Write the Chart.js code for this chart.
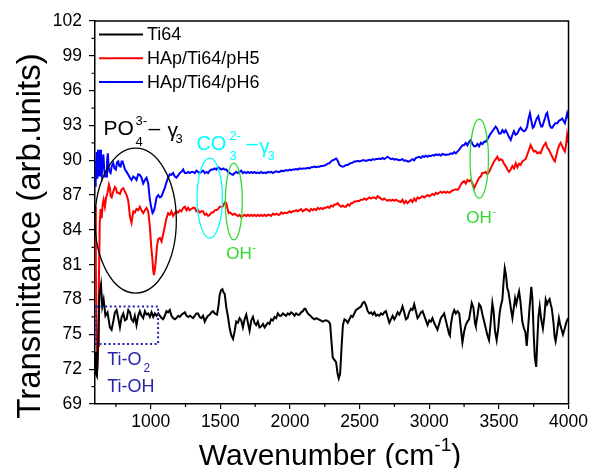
<!DOCTYPE html>
<html>
<head>
<meta charset="utf-8">
<script src="https://cdn.jsdelivr.net/npm/chart.js@4.4.1/dist/chart.umd.min.js"></script>
<style>
    html, body { margin: 0; padding: 0; background: #ffffff; }
    #wrap { width: 591px; height: 468px; position: relative; }
</style>
</head>
<body>
<div id="wrap"><canvas id="ftir-chart"></canvas></div>
<script>
// Wavenumbers (cm-1) and transmittance
const ti64Wave = [600,607,614,622,632,643,652,662,675,690,707,719,731,743,755,767,779,791,803,815,827,839,851,862,875,886,898,910,922,934,946,958,970,982,994,1006,1018,1030,1042,1054,1066,1078,1089,1101,1113,1125,1137,1149,1161,1173,1185,1197,1209,1221,1233,1245,1257,1270,1282,1294,1304,1316,1328,1340,1352,1364,1376,1388,1400,1412,1424,1436,1447,1460,1476,1486,1495,1505,1515,1523,1531,1543,1555,1567,1579,1591,1603,1614,1626,1638,1650,1662,1674,1686,1698,1710,1722,1734,1745,1757,1769,1781,1794,1806,1818,1829,1841,1853,1865,1877,1889,1901,1913,1925,1937,1949,1960,1972,1984,1996,2008,2020,2032,2044,2056,2068,2080,2092,2104,2111,2123,2135,2147,2163,2176,2190,2205,2220,2235,2250,2265,2278,2288,2297,2307,2319,2331,2342,2350,2360,2370,2380,2391,2403,2415,2427,2439,2450,2462,2474,2486,2498,2510,2522,2534,2546,2558,2570,2582,2594,2606,2618,2629,2641,2653,2665,2677,2689,2701,2713,2725,2737,2749,2761,2773,2785,2797,2808,2820,2832,2844,2856,2868,2880,2892,2904,2916,2928,2940,2952,2964,2976,2988,3000,3011,3023,3035,3047,3059,3071,3083,3095,3107,3119,3131,3143,3148,3155,3167,3179,3191,3203,3215,3227,3238,3250,3262,3274,3286,3298,3305,3317,3329,3334,3346,3358,3370,3382,3394,3406,3418,3429,3441,3453,3462,3472,3484,3496,3505,3513,3525,3534,3542,3551,3560,3568,3578,3589,3597,3606,3616,3625,3635,3645,3655,3668,3680,3690,3700,3710,3720,3733,3741,3750,3758,3768,3776,3784,3793,3804,3816,3826,3836,3846,3856,3864,3872,3880,3892,3900,3907,3915,3923,3931,3939,3948,3960,3970,3979,3986,3993,4000];
const ti64Values = [73.5,71.6,71.4,74.0,78.5,79.3,77.4,78.0,76.6,76.9,75.6,75.4,76.1,76.9,77.1,76.4,75.6,76.5,76.8,76.2,76.3,77.1,76.9,76.3,76.1,76.6,75.8,76.6,77.0,76.6,76.4,77.0,76.7,76.8,76.5,76.9,76.5,76.8,76.6,76.8,76.6,76.4,76.3,76.6,77.0,76.9,77.1,76.6,76.4,76.3,76.4,76.6,76.5,76.7,76.8,76.9,76.6,76.5,76.6,76.5,76.4,76.6,76.8,76.8,76.5,76.4,76.6,76.1,76.4,76.6,76.7,76.9,77.0,76.8,76.7,77.4,78.4,78.8,78.9,78.6,78.5,77.3,76.5,75.5,74.9,74.6,75.3,76.1,76.0,76.4,76.2,75.6,76.3,76.7,76.0,75.3,76.2,76.5,76.0,75.8,76.1,75.6,75.7,75.9,75.6,75.8,76.0,75.9,76.3,76.2,76.5,76.4,76.8,76.6,76.6,76.8,76.7,76.6,76.8,76.7,76.9,76.8,76.6,76.8,76.7,76.7,76.9,77.0,77.2,77.2,76.9,76.7,76.6,76.4,76.3,76.4,76.3,76.2,76.1,76.2,76.2,76.1,75.9,74.5,73.0,72.8,72.6,71.6,71.2,71.6,73.8,75.8,76.3,76.2,76.0,76.3,76.6,76.5,76.8,77.1,77.2,77.3,77.4,77.7,77.8,77.5,77.0,76.8,76.9,76.7,76.9,76.6,76.7,76.6,76.8,76.7,76.9,77.0,76.5,76.0,76.3,76.6,76.3,76.55,76.9,76.7,77.0,77.4,76.9,76.3,76.4,76.9,77.2,77.1,77.6,77.0,76.4,76.6,76.9,77.0,76.6,76.2,75.8,76.2,76.1,76.4,76.0,75.7,75.4,75.9,76.4,76.6,76.8,76.2,75.6,75.0,74.9,75.8,76.7,77.1,76.8,77.0,76.8,75.5,74.3,75.2,75.8,76.1,76.3,77.2,77.7,77.3,75.9,75.7,76.6,77.6,77.4,76.7,76.1,75.5,74.9,74.5,76.0,77.7,77.0,75.3,74.5,75.6,76.8,77.4,78.0,79.6,80.7,80.1,79.0,78.7,77.9,77.0,76.4,77.2,78.1,77.6,78.2,78.7,77.8,76.1,75.5,75.2,74.0,75.6,77.3,79.1,78.0,75.0,73.0,72.2,74.5,76.5,77.4,76.3,75.5,76.5,78.0,77.6,77.9,78.05,77.6,77.2,76.0,74.8,74.4,75.0,75.7,76.4,75.9,75.5,75.0,75.4,75.8,76.1,76.3,76.2];

const ph5Wave = [600,606,612,617,622,628,634,640,648,655,662,671,680,690,700,707,713,720,731,743,750,758,767,779,791,803,815,827,839,851,862,875,886,898,910,922,934,946,958,970,982,994,1004,1013,1018,1023,1030,1037,1045,1054,1066,1078,1089,1101,1113,1125,1137,1149,1161,1173,1185,1197,1209,1221,1233,1245,1257,1268,1280,1292,1304,1316,1328,1340,1352,1364,1376,1388,1400,1412,1424,1436,1448,1460,1472,1484,1496,1508,1515,1525,1535,1543,1552,1560,1570,1580,1590,1602,1614,1626,1638,1650,1662,1674,1686,1698,1710,1722,1734,1745,1757,1769,1781,1793,1805,1817,1829,1841,1853,1865,1877,1889,1901,1913,1925,1937,1949,1961,1973,1985,1997,2008,2020,2032,2044,2056,2068,2080,2092,2104,2116,2128,2140,2152,2163,2175,2187,2199,2211,2223,2235,2247,2259,2271,2283,2295,2307,2319,2331,2343,2355,2367,2379,2390,2402,2414,2427,2438,2450,2462,2474,2486,2498,2510,2522,2534,2546,2558,2570,2582,2594,2606,2618,2629,2641,2653,2665,2677,2689,2701,2713,2725,2737,2749,2761,2773,2785,2797,2808,2820,2832,2844,2856,2868,2880,2892,2904,2916,2928,2940,2952,2964,2976,2988,3000,3011,3023,3035,3047,3059,3071,3083,3095,3107,3119,3131,3143,3155,3167,3179,3191,3202,3214,3226,3238,3250,3262,3274,3286,3298,3310,3322,3334,3346,3358,3370,3381,3393,3405,3417,3430,3441,3453,3465,3477,3489,3501,3513,3525,3537,3549,3561,3573,3585,3597,3609,3621,3633,3645,3656,3668,3680,3692,3704,3716,3728,3740,3752,3764,3776,3788,3800,3812,3824,3836,3847,3859,3871,3883,3895,3902,3912,3922,3933,3943,3955,3966,3974,3982,3990,4000];
const ph5Values = [86.0,81.0,74.5,72.0,74.0,79.5,84.5,85.8,85.0,86.2,86.6,86.0,86.8,87.2,87.9,87.6,86.9,86.8,87.3,87.7,87.6,87.2,87.2,87.1,87.5,87.6,87.3,87.0,86.5,85.15,84.6,85.6,85.5,85.8,85.7,86.0,85.7,85.45,85.7,85.9,85.6,84.3,82.5,81.4,80.5,80.1,80.6,81.4,82.6,83.2,83.3,83.0,83.6,84.3,85.0,85.45,85.3,85.6,85.2,85.45,85.6,85.5,85.7,85.6,85.9,86.0,85.7,85.9,85.7,85.8,85.9,85.9,85.6,85.7,85.5,85.6,85.6,85.3,85.4,85.2,85.3,85.5,85.5,85.7,85.7,85.8,86.0,86.0,86.0,86.2,86.4,86.3,85.8,85.45,85.5,85.4,85.3,85.4,85.3,85.2,85.3,85.1,85.2,85.3,85.2,85.3,85.2,85.3,85.2,85.3,85.2,85.3,85.2,85.3,85.2,85.3,85.2,85.3,85.3,85.2,85.4,85.3,85.4,85.3,85.3,85.5,85.4,85.5,85.45,85.5,85.6,85.5,85.6,85.6,85.7,85.6,85.7,85.8,85.6,85.7,85.8,85.7,85.6,85.8,85.7,85.8,85.7,85.9,85.8,85.9,85.8,85.9,85.9,86.0,85.9,86.1,86.0,86.2,86.2,86.3,86.1,86.0,86.1,86.0,86.0,86.2,86.1,86.3,86.3,86.45,86.45,86.5,86.5,86.6,86.6,86.7,86.6,86.7,86.8,86.7,86.8,86.8,86.7,86.9,86.8,86.7,86.6,86.7,86.6,86.5,86.6,86.5,86.6,86.5,86.6,86.5,86.45,86.4,86.6,86.3,86.5,86.3,86.45,86.6,86.4,86.7,86.5,86.8,86.7,86.8,86.9,86.8,86.9,87.0,86.9,87.0,87.1,87.0,87.2,87.1,87.2,87.3,87.2,87.3,87.2,87.3,87.2,87.3,87.4,87.45,87.5,87.45,87.6,87.9,88.1,88.2,88.0,88.3,88.2,88.3,88.0,87.6,87.9,88.2,88.5,88.6,88.9,88.9,89.0,88.8,89.0,89.3,89.6,89.9,90.1,90.3,90.0,90.1,90.0,89.7,89.5,89.2,89.0,89.2,89.5,89.3,89.75,89.4,89.7,89.6,89.9,90.0,90.1,90.5,90.9,91.3,91.0,90.75,90.8,90.6,90.7,90.6,91.0,91.3,91.5,91.1,90.9,90.6,90.3,90.0,89.9,90.4,90.9,91.3,91.5,91.2,90.9,90.75,91.3,92.2,91.5];

const ph6Wave = [600,603,607,612,617,622,627,632,637,643,648,654,660,666,672,679,686,692,698,704,712,720,731,740,750,758,767,775,784,791,798,806,815,827,839,851,862,875,886,898,910,922,934,946,958,970,982,994,1004,1013,1021,1030,1042,1054,1066,1078,1090,1101,1113,1125,1137,1149,1161,1173,1185,1197,1209,1221,1233,1245,1257,1269,1280,1292,1304,1316,1328,1340,1352,1364,1376,1388,1400,1412,1424,1436,1447,1459,1471,1483,1495,1507,1519,1531,1543,1555,1567,1579,1591,1603,1614,1626,1638,1650,1662,1674,1686,1698,1710,1722,1734,1745,1757,1769,1781,1793,1805,1817,1829,1841,1853,1865,1877,1889,1901,1913,1925,1937,1949,1961,1973,1985,1997,2008,2020,2032,2044,2056,2068,2080,2092,2104,2116,2128,2140,2152,2163,2175,2187,2199,2211,2223,2235,2247,2259,2271,2283,2295,2307,2319,2331,2336,2345,2355,2367,2379,2391,2403,2415,2427,2438,2450,2462,2474,2486,2498,2510,2522,2534,2546,2558,2570,2582,2594,2606,2618,2630,2641,2653,2665,2677,2689,2701,2713,2725,2737,2749,2761,2773,2785,2797,2808,2820,2832,2844,2856,2868,2880,2892,2904,2916,2928,2940,2952,2964,2976,2988,3000,3011,3023,3035,3047,3059,3071,3083,3095,3107,3119,3131,3143,3155,3167,3179,3191,3202,3214,3226,3238,3250,3262,3274,3286,3298,3310,3322,3334,3346,3358,3370,3382,3394,3405,3417,3429,3441,3453,3465,3477,3489,3501,3513,3525,3537,3549,3561,3573,3585,3597,3608,3620,3632,3644,3656,3668,3680,3692,3703,3713,3723,3733,3743,3752,3762,3772,3783,3793,3803,3812,3822,3833,3840,3847,3855,3865,3876,3883,3893,3905,3919,3931,3945,3955,3964,3974,3982,3990,4000];
const ph6Values = [87.8,90.0,88.2,90.7,88.4,90.9,89.2,88.6,90.9,88.8,88.6,89.8,90.5,89.3,88.6,88.6,89.8,90.6,89.4,89.0,88.9,89.5,89.75,89.3,89.2,89.8,89.9,89.5,89.45,89.9,89.9,89.6,89.2,89.0,88.75,88.5,88.3,88.6,88.5,88.3,88.8,88.75,88.5,88.0,88.3,88.5,88.0,86.6,85.9,85.45,85.6,86.0,86.8,87.0,86.8,86.9,87.3,87.6,88.1,88.5,88.8,88.75,88.9,88.6,88.5,88.7,88.9,89.0,89.2,88.9,88.9,89.0,88.9,89.0,89.0,88.9,89.1,89.0,88.9,89.0,89.1,88.9,89.0,88.9,89.1,89.2,89.2,89.3,89.2,89.4,89.3,89.2,89.3,89.2,89.2,89.0,88.9,88.8,88.75,88.9,89.0,88.9,89.0,89.1,88.9,89.0,88.9,89.0,88.9,89.0,88.9,89.0,88.9,88.95,88.9,89.0,88.9,88.95,88.9,89.0,88.95,89.0,88.9,89.0,89.05,89.0,89.0,89.1,89.05,89.1,89.15,89.1,89.2,89.15,89.2,89.2,89.25,89.2,89.3,89.25,89.3,89.3,89.3,89.35,89.3,89.4,89.4,89.45,89.4,89.45,89.45,89.5,89.5,89.55,89.6,89.7,89.75,89.9,90.0,90.05,90.15,90.1,89.9,89.6,89.5,89.45,89.5,89.6,89.6,89.7,89.75,89.8,89.9,89.9,89.95,89.9,89.95,90.0,90.0,89.95,90.0,90.05,90.0,90.1,90.05,90.1,90.1,90.15,90.1,90.2,90.1,90.2,90.3,90.2,90.1,90.15,90.05,90.1,90.05,90.0,90.05,90.1,89.95,90.0,89.9,89.9,90.0,90.1,90.0,90.2,90.25,90.3,90.2,90.35,90.3,90.4,90.3,90.4,90.35,90.45,90.4,90.5,90.45,90.5,90.4,90.55,90.5,90.45,90.5,90.5,90.6,90.55,90.7,90.6,90.75,90.9,91.1,91.3,91.3,91.5,91.3,91.6,91.75,91.4,91.2,91.2,91.4,91.2,91.5,91.4,91.6,91.6,91.8,92.05,92.3,92.5,92.7,92.9,92.7,92.3,92.3,92.6,92.4,92.6,92.3,92.0,91.75,92.2,92.5,92.2,92.3,92.6,92.8,92.6,92.5,92.6,92.9,93.6,94.05,93.4,92.8,92.9,93.3,93.6,93.8,93.3,92.9,92.9,93.3,93.7,94.0,94.1,93.6,93.0,92.8,92.8,93.0,93.2,93.2,93.4,93.5,93.6,93.4,93.2,93.6,94.05,93.6];

const seriesNames = ["Ti64", "HAp/Ti64/pH5", "HAp/Ti64/pH6"];
const seriesColors = ["#000000", "#ff0000", "#0000ff"];
const xTicks = [1000, 1500, 2000, 2500, 3000, 3500, 4000];
const xMinorTicks = [750, 1250, 1750, 2250, 2750, 3250, 3750];
const yTicks = [69, 72, 75, 78, 81, 84, 87, 90, 93, 96, 99, 102];
const yMinorTicks = [70.5, 73.5, 76.5, 79.5, 82.5, 85.5, 88.5, 91.5, 94.5, 97.5, 100.5];

const FONT = "'Liberation Sans', Arial, Helvetica, sans-serif";

// band annotations: ellipses in data units (centre, half widths)
const bandEllipses = [
    { x: 892, y: 84.8, rx: 292, ry: 6.24, color: "#000000" },
    { x: 1424, y: 86.74, rx: 91, ry: 3.44, color: "#00ffff" },
    { x: 1597, y: 86.45, rx: 61, ry: 3.3, color: "#30d830" },
    { x: 3359, y: 90.14, rx: 66, ry: 3.4, color: "#30d830" }
];

function toPoints(waves, values) {
    return waves.map(function (w, i) {
        return { x: w, y: values[i] };
    });
}

// pieces with a numeric dx sit at that offset, others follow the previous piece
function drawPieces(ctx, x, y, color, pieces) {
    let cursor = x;
    ctx.fillStyle = color;
    ctx.textBaseline = "alphabetic";
    ctx.textAlign = "left";
    pieces.forEach(function (p) {
        ctx.font = p.s + "px " + FONT;
        const px = typeof p.dx === "number" ? x + p.dx : cursor + (p.gap || 0);
        ctx.fillText(p.t, px, y + (p.dy || 0));
        cursor = px + ctx.measureText(p.t).width;
    });
}

const decorations = {
    id: "decorations",
    afterDatasetsDraw(chart) {
        const ctx = chart.ctx;
        const xs = chart.scales.x;
        const ys = chart.scales.y;
        const area = chart.chartArea;
        ctx.save();

        // ellipses around absorption bands
        ctx.lineWidth = 1.3;
        bandEllipses.forEach(function (e) {
            const cx = xs.getPixelForValue(e.x);
            const cy = ys.getPixelForValue(e.y);
            const rx = Math.abs(xs.getPixelForValue(e.x + e.rx) - cx);
            const ry = Math.abs(ys.getPixelForValue(e.y + e.ry) - cy);
            ctx.strokeStyle = e.color;
            ctx.beginPath();
            ctx.ellipse(cx, cy, rx, ry, 0, 0, Math.PI * 2);
            ctx.stroke();
        });

        // dotted box for Ti-O region
        const bx1 = xs.getPixelForValue(607), bx2 = xs.getPixelForValue(1053);
        const by1 = ys.getPixelForValue(77.41), by2 = ys.getPixelForValue(74.17);
        ctx.strokeStyle = "#2020b4";
        ctx.lineWidth = 2;
        ctx.setLineDash([2, 2.6]);
        ctx.strokeRect(bx1, by1, bx2 - bx1, by2 - by1);
        ctx.setLineDash([]);

        // band labels
        drawPieces(ctx, xs.getPixelForValue(661), ys.getPixelForValue(92.19), "#000000", [
            { t: "PO", s: 21, dx: 0 },
            { t: "4", s: 13, dx: 32, dy: 11.5 },
            { t: "3-", s: 13, dx: 32, dy: -10 },
            { t: "\u2013", s: 21, dx: 45 },
            { t: "\u03b3", s: 21, dx: 64, dy: 2 },
            { t: "3", s: 13, dx: 72, dy: 8 }
        ]);
        drawPieces(ctx, xs.getPixelForValue(1328), ys.getPixelForValue(90.9), "#00ffff", [
            { t: "CO", s: 20, dx: 0 },
            { t: "3", s: 13, dx: 33, dy: 10 },
            { t: "2-", s: 13, dx: 33, dy: -10 },
            { t: "\u2013", s: 20, dx: 50 },
            { t: "\u03b3", s: 20, dx: 63, dy: 3 },
            { t: "3", s: 13, dx: 71, dy: 10 }
        ]);
        [[1543, 81.5], [3265, 84.6]].forEach(function (pos) {
            drawPieces(ctx, xs.getPixelForValue(pos[0]), ys.getPixelForValue(pos[1]), "#30d830", [
                { t: "OH", s: 17, dx: 0 },
                { t: "-", s: 11, gap: 0.5, dy: -8 }
            ]);
        });
        drawPieces(ctx, xs.getPixelForValue(688), ys.getPixelForValue(72.4), "#2525a5", [
            { t: "Ti-O", s: 18, dx: 0 },
            { t: "2", s: 12, gap: 2, dy: 7.5 }
        ]);
        drawPieces(ctx, xs.getPixelForValue(688), ys.getPixelForValue(70.0), "#2525a5", [
            { t: "Ti-OH", s: 18, dx: 0 }
        ]);

        // legend, top left inside the frame
        ctx.font = "18px " + FONT;
        ctx.textBaseline = "middle";
        seriesNames.forEach(function (name, i) {
            const ly = area.top + 13.5 + i * 23.7;
            ctx.strokeStyle = seriesColors[i];
            ctx.lineWidth = 2;
            ctx.beginPath();
            ctx.moveTo(area.left + 4, ly);
            ctx.lineTo(area.left + 48, ly);
            ctx.stroke();
            ctx.fillStyle = "#000000";
            ctx.fillText(name, area.left + 52, ly + 1);
        });
        ctx.restore();
    },
    afterDraw(chart) {
        const ctx = chart.ctx;
        const xs = chart.scales.x;
        const ys = chart.scales.y;
        const area = chart.chartArea;
        ctx.save();

        // top and right frame lines
        ctx.strokeStyle = "#000000";
        ctx.lineWidth = 1.5;
        ctx.beginPath();
        ctx.moveTo(area.left, area.top);
        ctx.lineTo(area.right, area.top);
        ctx.lineTo(area.right, area.bottom);
        ctx.stroke();

        // minor ticks
        ctx.lineWidth = 1.2;
        ctx.beginPath();
        xMinorTicks.forEach(function (v) {
            const px = xs.getPixelForValue(v);
            ctx.moveTo(px, area.bottom);
            ctx.lineTo(px, area.bottom + 3);
        });
        yMinorTicks.forEach(function (v) {
            const py = ys.getPixelForValue(v);
            ctx.moveTo(area.left, py);
            ctx.lineTo(area.left - 3.5, py);
        });
        ctx.stroke();

        // axis titles
        ctx.fillStyle = "#000000";
        ctx.textBaseline = "alphabetic";
        ctx.textAlign = "left";
        const main = "Wavenumber (cm";
        ctx.font = "30px " + FONT;
        const wMain = ctx.measureText(main).width;
        const wEnd = ctx.measureText(")").width;
        ctx.font = "19px " + FONT;
        const wSup = ctx.measureText("-1").width;
        const tx = 330 - (wMain + wSup + wEnd) / 2;
        ctx.font = "30px " + FONT;
        ctx.fillText(main, tx, 465);
        ctx.fillText(")", tx + wMain + wSup, 465);
        ctx.font = "19px " + FONT;
        ctx.fillText("-1", tx + wMain, 451);

        ctx.translate(40, 236);
        ctx.rotate(-Math.PI / 2);
        ctx.textAlign = "center";
        ctx.font = "33px " + FONT;
        ctx.fillText("Transmittance (arb.units)", 0, 0);
        ctx.restore();
    }
};

const datasets = [
    { label: seriesNames[0], data: toPoints(ti64Wave, ti64Values) },
    { label: seriesNames[1], data: toPoints(ph5Wave, ph5Values) },
    { label: seriesNames[2], data: toPoints(ph6Wave, ph6Values) }
].map(function (ds, i) {
    ds.borderColor = seriesColors[i];
    ds.backgroundColor = seriesColors[i];
    ds.borderWidth = 2;
    ds.pointRadius = 0;
    ds.tension = 0;
    ds.fill = false;
    return ds;
});

new Chart(document.getElementById("ftir-chart").getContext("2d"), {
    type: "line",
    data: { datasets: datasets },
    plugins: [decorations],
    options: {
        responsive: true,
        maintainAspectRatio: false,
        animation: false,
        layout: { padding: { left: 0, top: 21, right: 22, bottom: 0 } },
        plugins: {
            legend: { display: false },
            tooltip: { enabled: false }
        },
        scales: {
            x: {
                type: "linear",
                min: 600,
                max: 4000,
                afterBuildTicks: function (scale) {
                    scale.ticks = xTicks.map(function (v) { return { value: v }; });
                },
                afterFit: function (scale) { scale.height = 64; },
                grid: { display: true, drawOnChartArea: false, drawTicks: true, tickLength: 5, color: "#000000", lineWidth: 1.2 },
                border: { display: true, color: "#000000", width: 1.5 },
                ticks: {
                    color: "#000000",
                    font: { family: FONT, size: 17.5 },
                    padding: 3,
                    maxRotation: 0,
                    callback: function (value) { return String(value); }
                }
            },
            y: {
                type: "linear",
                min: 69,
                max: 102,
                afterBuildTicks: function (scale) {
                    scale.ticks = yTicks.map(function (v) { return { value: v }; });
                },
                afterFit: function (scale) { scale.width = 95; },
                grid: { display: true, drawOnChartArea: false, drawTicks: true, tickLength: 6, color: "#000000", lineWidth: 1.2 },
                border: { display: true, color: "#000000", width: 1.5 },
                ticks: {
                    color: "#000000",
                    font: { family: FONT, size: 17.5 },
                    padding: 7,
                    callback: function (value) { return String(value); }
                }
            }
        }
    }
});
</script>
</body>
</html>
